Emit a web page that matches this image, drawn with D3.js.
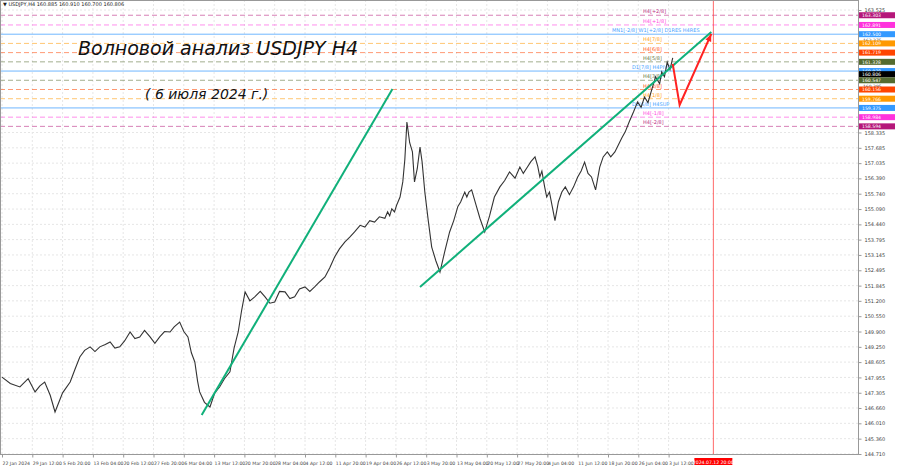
<!DOCTYPE html>
<html><head><meta charset="utf-8">
<script src="https://cdn.jsdelivr.net/npm/d3@7"></script>
<style>body{margin:0;background:#fff}svg{display:block}text{font-family:"DejaVu Sans",sans-serif}</style>
</head><body><svg id="c" width="900" height="468"></svg>
<script>
const barIdx = [0,12,26,38,48,55,62,70,77,88,99,106,113,120,128,135,142,150,157,164,171,178,186,193,200,207,215,222,229,236,244,250,258,264,270,275,280,284,287,294,302,309,316,323,331,337,343,348,353,360,367,375,382,389,396,403,411,418,425,432,440,447,454,461,469,476,483,490,498,505,512,520,527,534,541,548,556,560,563,566,570,573,575,578,582,585,588,592,596,599,603,607,610,614,619,624,630,636,643,650,656,662,666,669,672,675,678,682,688,694,701,708,715,723,730,737,745,752,757,763,768,774,778,781,784,788,791,795,799,803,808,813,818,824,830,836,841,846,851,856,862,868,873,879,884,890,895,900,905,911,917,923,928,933,938,943,949,955,958,962,966,970,974];
const closes = [147.97,147.70,147.55,147.90,147.34,147.60,147.76,147.20,146.49,147.30,147.76,148.30,148.82,149.10,149.25,149.05,149.25,149.35,149.46,149.20,149.25,149.50,149.88,149.60,149.67,149.95,149.67,149.40,149.67,149.90,149.88,150.10,150.30,149.90,149.67,149.00,148.61,147.80,147.34,146.90,146.70,147.30,147.55,147.90,148.19,149.20,149.88,150.80,151.58,151.20,151.37,151.60,151.37,151.10,151.15,151.60,151.58,151.30,151.37,151.70,151.79,151.60,151.79,152.00,152.21,152.60,153.06,153.40,153.70,153.90,154.12,154.40,154.33,154.60,154.54,154.76,154.70,154.97,154.80,155.10,154.97,155.25,155.39,155.60,156.24,157.20,158.78,157.90,157.51,156.24,156.80,157.72,157.10,155.81,154.60,153.48,152.90,152.42,153.30,154.12,154.60,155.20,155.39,155.60,155.81,155.60,155.81,155.90,155.30,154.70,154.12,154.80,155.60,156.03,156.30,156.66,156.40,156.87,156.60,156.87,157.10,157.30,156.90,156.45,156.70,156.03,155.60,155.81,155.20,154.60,155.40,155.81,156.03,155.70,156.03,156.45,156.70,157.08,156.60,156.45,155.90,156.87,157.30,157.51,157.30,157.51,157.80,158.10,158.36,158.80,159.20,159.63,159.40,159.84,159.60,160.10,160.69,160.40,160.90,160.70,161.32,161.00,161.50,161.75,161.40,161.11,160.90,160.81];
const priceTicks = [163.525,158.335,157.685,157.035,156.390,155.740,155.090,154.440,153.795,153.145,152.495,151.845,151.200,150.550,149.900,149.250,148.605,147.955,147.305,146.660,146.010,145.360,144.710];
const timeLabels = ["22 Jan 2024","29 Jan 12:00","5 Feb 20:00","13 Feb 04:00","20 Feb 12:00","27 Feb 20:00","6 Mar 04:00","13 Mar 12:00","20 Mar 20:00","28 Mar 04:00","4 Apr 12:00","11 Apr 20:00","19 Apr 04:00","26 Apr 12:00","3 May 20:00","13 May 04:00","20 May 12:00","27 May 20:00","4 Jun 04:00","11 Jun 12:00","18 Jun 20:00","26 Jun 04:00","3 Jul 12:00"];
const levelNames = ["H4[+2/8]","H4[+1/8]","MN1[-2/8] W1[+2/8] D1RES H4RES","H4[7/8]","H4[6/8]","H4[5/8]","D1[7/8] H4PIVOT","H4[3/8]","H4[2/8]","H4[1/8]","D1[6/8] H4SUP","H4[-1/8]","H4[-2/8]"];
const levelPrices = [163.303,162.891,162.500,162.109,161.719,161.328,160.938,160.547,160.156,159.766,159.375,158.984,158.594];
const levelColors = ["#b5177a","#ff33dd","#3399ff","#ff9900","#ff4500","#556b2f","#3399ff","#556b2f","#ff4500","#ff9900","#3399ff","#ff33dd","#b5177a"];
const extraLabels = [162.375,160.395];
const trendA = {bars:[290,567],prices:[146.36,160.18]};
const trendB = {bars:[607,1030],prices:[151.79,162.59]};
const arrowBars = [974,984,1030];
const arrowPrices = [161.24,159.50,162.51];
const currentPrice = 160.806;
const futureBar = 1033;

const svg = d3.select("#c");
const W=858,H=454;
const x = d3.scaleLinear().domain([0,44]).range([2,32.3]);
const y = d3.scaleLinear().domain([163.525,144.710]).range([10,454]);
const g = svg.append("g");
priceTicks.forEach(p=>g.append("line").attr("x1",0).attr("x2",W).attr("y1",y(p)).attr("y2",y(p)).attr("stroke","#e6e6e6").attr("stroke-dasharray","2,2"));
timeLabels.forEach((t,i)=>g.append("line").attr("x1",x(i*44)).attr("x2",x(i*44)).attr("y1",0).attr("y2",H).attr("stroke","#e6e6e6").attr("stroke-dasharray","2,2"));
levelPrices.forEach((p,i)=>{
  const solid = levelColors[i]=="#3399ff";
  g.append("line").attr("x1",0).attr("x2",W).attr("y1",y(p)).attr("y2",y(p)).attr("stroke",levelColors[i]).attr("stroke-opacity",solid?0.7:0.55).attr("stroke-dasharray",solid?null:"5,3");
  g.append("text").attr("x",i==2?612:(solid?632:643)).attr("y",y(p)-2).attr("font-size",5).attr("fill",levelColors[i]).attr("opacity",0.9).text(levelNames[i]);
});
g.append("line").attr("x1",x(futureBar)).attr("x2",x(futureBar)).attr("y1",0).attr("y2",H).attr("stroke","#ff4444").attr("stroke-width",0.8);
g.append("path").datum(barIdx.map((b,i)=>[b,closes[i]])).attr("fill","none").attr("stroke","#333").attr("stroke-width",1.1)
 .attr("d",d3.line().x(d=>x(d[0])).y(d=>y(d[1])));
[trendA,trendB].forEach(t=>g.append("line").attr("x1",x(t.bars[0])).attr("y1",y(t.prices[0])).attr("x2",x(t.bars[1])).attr("y2",y(t.prices[1])).attr("stroke","#10b07a").attr("stroke-width",2));
g.append("path").attr("fill","none").attr("stroke","#ff2222").attr("stroke-width",2)
 .attr("d",d3.line().x((d,i)=>x(arrowBars[i])).y(d=>y(d))(arrowPrices));
const ab=arrowBars.length-1, ax=x(arrowBars[ab]), ay=y(arrowPrices[ab]);
const ang=Math.atan2(ay-y(arrowPrices[ab-1]),ax-x(arrowBars[ab-1]));
g.append("path").attr("fill","#ff2222").attr("d",`M${ax},${ay}L${ax-8*Math.cos(ang-0.4)},${ay-8*Math.sin(ang-0.4)}L${ax-8*Math.cos(ang+0.4)},${ay-8*Math.sin(ang+0.4)}Z`);
svg.append("rect").attr("x",0.5).attr("y",0.5).attr("width",W).attr("height",H).attr("fill","none").attr("stroke","#999");
const ya = svg.append("g").attr("transform",`translate(${W+0.5},0)`).call(d3.axisRight(y).tickValues(priceTicks).tickFormat(d3.format(".3f")).tickSize(3));
ya.select(".domain").remove();
ya.selectAll("text").attr("font-size",5).attr("fill","#444");
ya.selectAll("line").attr("stroke","#999");
extraLabels.forEach(p=>svg.append("text").attr("x",W+5).attr("y",y(p)+4.5).attr("font-size",4.5).attr("fill","#444").text(d3.format(".3f")(p)));
const boxes = levelPrices.map((p,i)=>({p,c:levelColors[i]})).concat([{p:currentPrice,c:"#000"}]);
boxes.forEach(b=>{svg.append("rect").attr("x",W+1).attr("y",y(b.p)-3).attr("width",36).attr("height",6).attr("fill",b.c);
 svg.append("text").attr("x",W+4).attr("y",y(b.p)+1.8).attr("font-size",4.6).attr("fill","#fff").text(d3.format(".3f")(b.p));});
const xa = svg.append("g").attr("transform",`translate(0,${H+0.5})`).call(d3.axisBottom(x).tickValues(timeLabels.map((t,i)=>i*44)).tickFormat((d,i)=>timeLabels[i]).tickSize(3));
xa.select(".domain").remove();
xa.selectAll("text").attr("font-size",4.6).attr("fill","#444").attr("text-anchor","start").attr("dy","1em");
xa.selectAll("line").attr("stroke","#999");
svg.append("rect").attr("x",x(futureBar)-19).attr("y",H+4).attr("width",38).attr("height",7).attr("fill","#ff0000");
svg.append("text").attr("x",x(futureBar)).attr("y",H+9.5).attr("text-anchor","middle").attr("font-size",4.6).attr("fill","#fff").text("2024.07.12 20:00");
svg.append("text").attr("x",3).attr("y",6).attr("font-size",5).attr("fill","#222").text("▼ USDJPY,H4  160.885 160.910 160.700 160.806");
svg.append("text").attr("x",78).attr("y",55).attr("font-size",19).attr("font-style","italic").attr("font-family","'Liberation Serif',serif").attr("fill","#111").text("Волновой анализ USDJPY H4");
svg.append("text").attr("x",145).attr("y",99).attr("font-size",14).attr("font-style","italic").attr("font-family","'Liberation Serif',serif").attr("fill","#111").text("( 6 июля 2024 г.)");
</script></body></html>
